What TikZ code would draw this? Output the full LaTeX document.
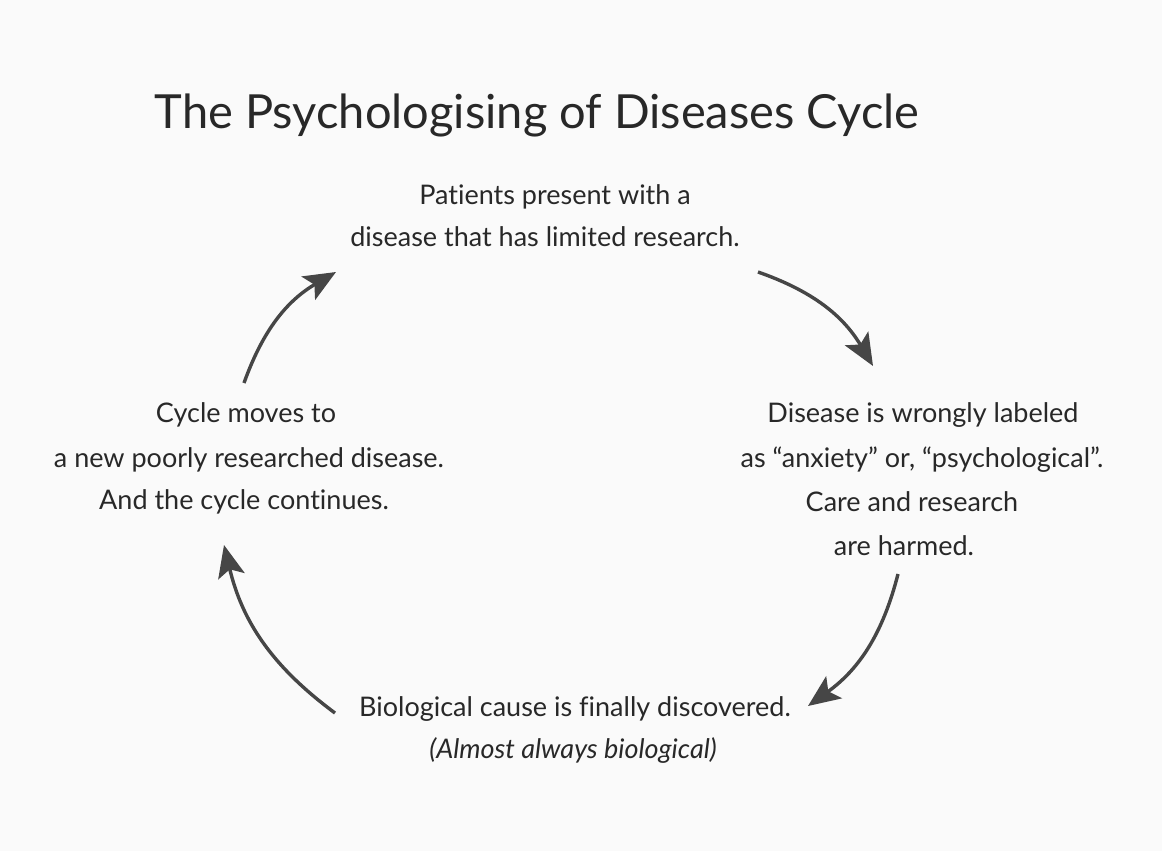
\documentclass[tikz,border=0pt]{standalone}
\usepackage{fontspec}
\setmainfont{Lato}[Ligatures=NoCommon]
\usetikzlibrary{arrows.meta}
\definecolor{bg}{RGB}{250,250,250}
\definecolor{txt}{RGB}{40,40,40}
\definecolor{arr}{RGB}{70,70,70}
\tikzset{
  body/.style={text=txt, font=\fontsize{27}{31}\selectfont, inner sep=0pt, anchor=center},
  ttl/.style={text=txt, font=\fontsize{47}{52}\selectfont, inner sep=0pt, anchor=center},
  cyc/.style={draw=arr, line width=3.4pt, -{Stealth[length=32pt,width=27pt,inset=7pt]}, bend left=20}
}
\begin{document}
\begin{tikzpicture}[x=1pt,y=-1pt]
\fill[bg] (0,0) rectangle (1162,851);
\useasboundingbox (0,0) rectangle (1162,851);
\node[ttl] (title) at (537,115) {The Psychologising of Diseases Cycle};
% top
\node[body] (t1) at (555,197) {Patients present with a};
\node[body] (t2) at (545,237) {disease that has limited research.};
% right
\node[body] (r1) at (923,415) {Disease is wrongly labeled};
\node[body] (r2) at (922,460) {as “anxiety” or, “psychological”.};
\node[body] (r3) at (912,502) {Care and research};
\node[body] (r4) at (904,546) {are harmed.};
% left
\node[body] (l1) at (246,415) {Cycle moves to};
\node[body] (l2) at (249,460) {a new poorly researched disease.};
\node[body] (l3) at (244,502) {And the cycle continues.};
% bottom
\node[body] (b1) at (575,709) {Biological cause is finally discovered.};
\node[body] (b2) at (573,750) {\itshape (Almost always biological)};
% arrow ends
\coordinate (a1s) at (244,383);
\coordinate (a1e) at (336,272);
\coordinate (a2s) at (758,272);
\coordinate (a2e) at (873,366);
\coordinate (a3s) at (898,574);
\coordinate (a3e) at (808,706);
\coordinate (a4s) at (335,713);
\coordinate (a4e) at (224,545);
\draw[cyc] (a1s) to (a1e);
\draw[cyc] (a2s) to (a2e);
\draw[cyc] (a3s) to (a3e);
\draw[cyc] (a4s) to (a4e);
\end{tikzpicture}
\end{document}
